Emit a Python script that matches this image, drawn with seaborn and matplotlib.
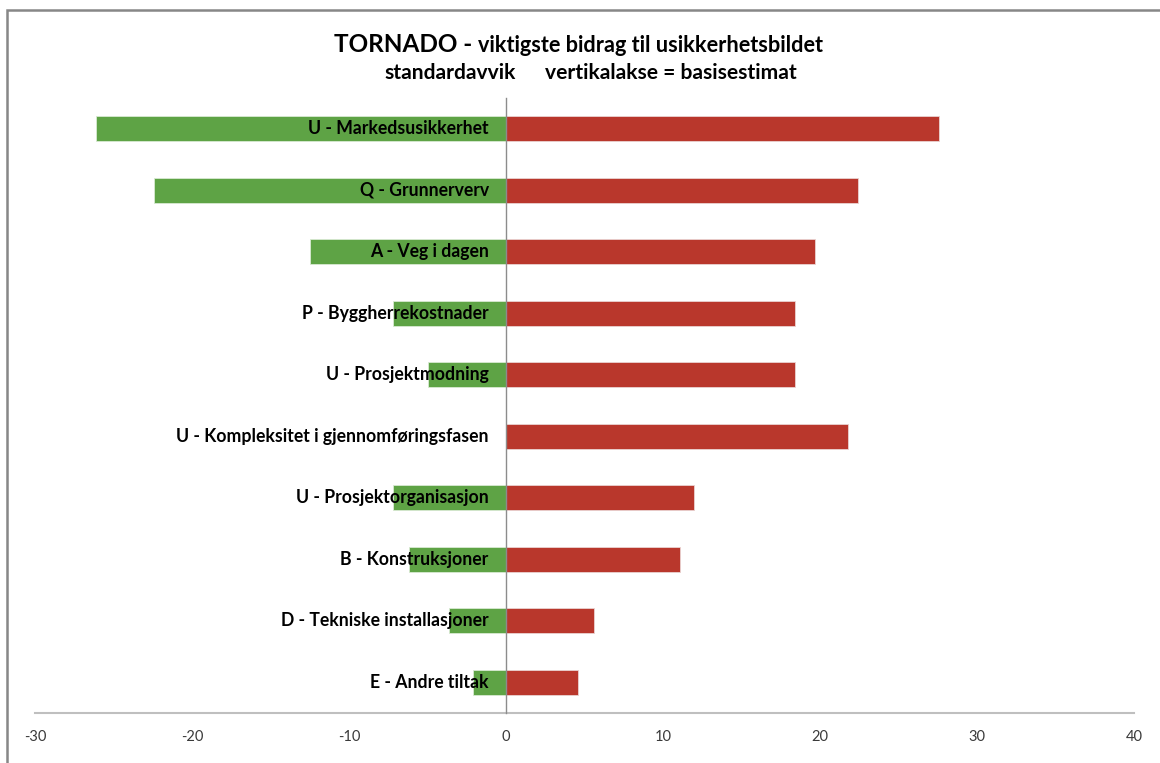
import matplotlib
matplotlib.use("Agg")
import matplotlib.pyplot as plt
import seaborn as sns
import pandas as pd
from matplotlib.patches import Rectangle

# data
categories = [
    "U - Markedsusikkerhet",
    "Q - Grunnerverv",
    "A - Veg i dagen",
    "P - Byggherrekostnader",
    "U - Prosjektmodning",
    "U - Kompleksitet i gjennomføringsfasen",
    "U - Prosjektorganisasjon",
    "B - Konstruksjoner",
    "D - Tekniske installasjoner",
    "E - Andre tiltak",
]
low = [-26.1, -22.4, -12.5, -7.2, -5.0, 0.0, -7.2, -6.2, -3.6, -2.1]
high = [27.6, 22.4, 19.7, 18.4, 18.4, 21.8, 12.0, 11.1, 5.6, 4.6]
xticks = [-30, -20, -10, 0, 10, 20, 30, 40]

df = pd.DataFrame({"kategori": categories, "lav": low, "hoy": high})

sns.set_style("white")
plt.rcParams['font.family'] = ['Lato', 'DejaVu Sans']

green = '#5ea345'
red = '#b9372c'
grey = '#bfbfbf'

fig = plt.figure(figsize=(11.6, 7.63), dpi=100)
ax = fig.add_axes([35/1160, 1 - 713/763, (1134 - 35)/1160, (713 - 98)/763])

sns.barplot(data=df, x="lav", y="kategori", orient="h", color=green, width=0.4,
            saturation=1, edgecolor='#d9ead3', linewidth=0.6, ax=ax)
sns.barplot(data=df, x="hoy", y="kategori", orient="h", color=red, width=0.4,
            saturation=1, edgecolor='#ead3d1', linewidth=0.6, ax=ax)

ax.set_xlim(-30, 40)
ax.set_ylim(len(categories) - 0.5, -0.5)
ax.set_xticks(xticks)
ax.set_xticklabels([str(t) for t in xticks], fontsize=10.5, color='#3a3a3a')
ax.set_xlabel("")
ax.set_ylabel("")

# category labels just left of the zero line
ax.set_yticks([])
for i, name in enumerate(categories):
    ax.text(-1.1, i, name, ha='right', va='center', fontsize=12.7,
            fontweight='bold', color='black', zorder=5)

# vertical axis at zero, ticks between categories
for s in ['top', 'right']:
    ax.spines[s].set_visible(False)
ax.spines['left'].set_position(('data', 0))
ax.spines['left'].set_color('#8c8c8c')
ax.spines['left'].set_linewidth(1.0)
ax.spines['left'].set_zorder(6)
ax.set_yticks([i - 0.5 for i in range(len(categories) + 1)], minor=True)
ax.tick_params(axis='y', which='minor', length=6, color=grey, width=1.5, direction='out')
ax.spines['bottom'].set_color(grey)
ax.spines['bottom'].set_linewidth(1.5)
ax.tick_params(axis='x', which='major', length=5, color=grey, width=1.2, pad=7)
ax.grid(False)

# title
fig.text(472/1160, 1 - 52/763, "TORNADO -", ha='right', va='baseline',
         fontsize=17.5, fontweight='bold', color='black')
fig.text(478/1160, 1 - 52/763, "viktigste bidrag til usikkerhetsbildet", ha='left',
         va='baseline', fontsize=15.6, fontweight='bold', color='black')
fig.text(384/1160, 1 - 79/763, "standardavvik", ha='left', va='baseline',
         fontsize=15.1, fontweight='bold', color='black')
fig.text(545/1160, 1 - 79/763, "vertikalakse = basisestimat", ha='left', va='baseline',
         fontsize=15.1, fontweight='bold', color='black')

# chart frame (only the left and top edges are visible)
fig.add_artist(Rectangle((7/1160, -0.1), 1.2, 1.1 - 10/763, transform=fig.transFigure,
                         fill=False, edgecolor='#878787', linewidth=1.8))

fig.savefig("out.png", dpi=100)
